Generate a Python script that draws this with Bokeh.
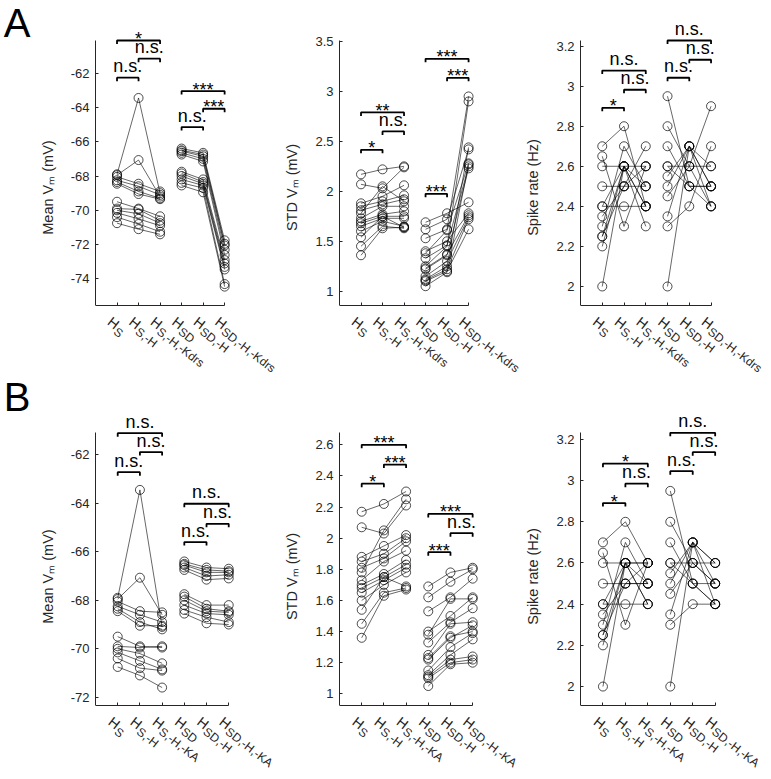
import math
from bokeh.plotting import figure
from bokeh.layouts import gridplot
from bokeh.models import (Range1d, FixedTicker, Label, NumeralTickFormatter, LinearAxis,
                          CustomJSTickFormatter)
from bokeh.embed import file_html
from bokeh.resources import INLINE

FONT = "Liberation Sans"
AX = "#262626"

# ---------------- categories / tick labels ----------------
cats_all = [1, 2, 3, 4, 5, 6]
cats_s = [1, 2, 3]
cats_sd = [4, 5, 6]
sub_kdrs = ["S", "S,-H", "S,-H,-Kdrs", "SD", "SD,-H", "SD,-H,-Kdrs"]
sub_ka = ["S", "S,-H", "S,-H,-KA", "SD", "SD,-H", "SD,-H,-KA"]

# ---------------- Mean Vm (mV) ----------------
vm_s_ctrl = [-67.90, -67.95, -68.05, -68.25, -68.35, -68.45, -69.50, -69.90, -70.00, -70.15, -70.40, -70.75]
vm_s_noH = [-63.45, -67.07, -68.45, -68.60, -68.90, -69.05, -69.90, -69.95, -70.20, -70.50, -70.80, -71.10]
vm_s_kdrs = [-69.00, -69.20, -68.90, -69.10, -69.30, -69.35, -70.35, -70.60, -70.75, -70.90, -71.25, -71.40]
vm_s_ka = [-69.10, -68.60, -68.50, -68.90, -69.20, -69.05, -69.95, -69.90, -70.60, -70.85, -70.90, -71.60]
vm_sd_ctrl = [-66.40, -66.50, -66.55, -66.65, -66.75, -67.75, -67.85, -68.00, -68.20, -68.40, -68.55]
vm_sd_noH = [-66.65, -66.75, -66.85, -67.00, -67.15, -68.20, -68.35, -68.45, -68.55, -68.70, -68.95]
vm_sd_kdrs = [-71.75, -71.95, -72.05, -72.30, -72.60, -72.90, -73.10, -73.30, -73.45, -74.30, -74.45]
vm_sd_ka = [-66.70, -66.80, -66.85, -66.95, -67.10, -68.20, -68.45, -68.50, -68.60, -68.90, -69.00]

# ---------------- STD Vm (mV) ----------------
sd_s_ctrl = [2.17, 2.07, 1.88, 1.85, 1.81, 1.78, 1.73, 1.70, 1.68, 1.65, 1.60, 1.54, 1.45, 1.36]
sd_s_noH = [2.22, 2.03, 1.95, 1.90, 1.87, 2.05, 1.85, 1.77, 1.75, 1.73, 1.70, 1.75, 1.65, 1.63]
sd_s_kdrs = [2.25, 2.24, 2.06, 1.96, 1.92, 1.90, 1.85, 1.80, 1.75, 1.73, 1.65, 1.64, 1.63, 1.64]
sd_s_ka = [2.30, 2.21, 2.02, 2.00, 1.98, 2.25, 1.92, 1.86, 1.83, 1.81, 1.78, 1.69, 1.68, 1.67]
sd_sd_ctrl = [1.69, 1.62, 1.53, 1.40, 1.38, 1.33, 1.25, 1.23, 1.22, 1.15, 1.12, 1.11, 1.10, 1.05]
sd_sd_noH = [1.78, 1.72, 1.62, 1.50, 1.61, 1.46, 1.45, 1.37, 1.36, 1.30, 1.25, 1.22, 1.20, 1.19]
sd_sd_kdrs = [1.89, 2.42, 2.95, 1.78, 2.28, 2.25, 2.90, 1.76, 2.23, 1.74, 2.44, 1.72, 1.62, 2.27]
sd_sd_ka = [1.81, 1.80, 1.74, 1.62, 1.61, 1.55, 1.46, 1.40, 1.44, 1.39, 1.35, 1.24, 1.22, 1.20]

# ---------------- Spike rate (Hz) ----------------
sr_s_ctrl = [2.70, 2.65, 2.60, 2.50, 2.40, 2.40, 2.35, 2.30, 2.25, 2.25, 2.20, 2.00]
sr_s_noH = [2.80, 2.30, 2.60, 2.50, 2.60, 2.40, 2.50, 2.70, 2.60, 2.50, 2.60, 2.60]
sr_s_kdrs = [2.40, 2.60, 2.60, 2.50, 2.30, 2.40, 2.70, 2.50, 2.40, 2.60, 2.50, 2.40]
sr_s_ka = [2.60, 2.60, 2.60, 2.50, 2.40, 2.40, 2.60, 2.50, 2.40, 2.50, 2.60, 2.50]
sr_sd_ctrl = [2.95, 2.80, 2.70, 2.60, 2.55, 2.50, 2.45, 2.35, 2.30, 2.00, 2.60]
sr_sd_noH = [2.50, 2.60, 2.50, 2.60, 2.70, 2.70, 2.60, 2.70, 2.40, 2.70, 2.50]
sr_sd_kdrs = [2.40, 2.40, 2.50, 2.60, 2.50, 2.40, 2.90, 2.60, 2.70, 2.50, 2.50]
sr_sd_ka = [2.40, 2.50, 2.40, 2.60, 2.60, 2.40, 2.50, 2.60, 2.40, 2.50, 2.50]

# ---------------- axis limits / ticks ----------------
lim_vm_a = (-75.55, -60.1)
lim_vm_b = (-72.34, -61.07)
lim_sd_a = (0.857, 3.51)
lim_sd_b = (0.925, 2.681)
lim_sr_a = (1.905, 3.228)
lim_sr_b = (1.908, 3.235)
ticks_vm_a = [-74, -72, -70, -68, -66, -64, -62]
ticks_vm_b = [-72, -70, -68, -66, -64, -62]
ticks_sd_a = [1, 1.5, 2, 2.5, 3, 3.5]
ticks_sd_b = [1, 1.2, 1.4, 1.6, 1.8, 2, 2.2, 2.4, 2.6]
ticks_sr = [2, 2.2, 2.4, 2.6, 2.8, 3, 3.2]

# ---------------- significance brackets (from, to, level, text) ----------------
br_vm_a = [(1, 2, -62.27, "n.s."), (2, 3, -61.16, "n.s."), (1, 3, -60.1, "*"),
           (4, 5, -65.15, "n.s."), (5, 6, -64.08, "***"), (4, 6, -63.05, "***")]
br_vm_b = [(1, 2, -62.72, "n.s."), (2, 3, -61.89, "n.s."), (1, 3, -61.11, "n.s."),
           (4, 5, -65.6, "n.s."), (5, 6, -64.85, "n.s."), (4, 6, -64.02, "n.s.")]
br_sd_a = [(1, 2, 2.416, "*"), (2, 3, 2.6, "n.s."), (1, 3, 2.79, "**"),
           (4, 5, 1.975, "***"), (5, 6, 3.136, "***"), (4, 6, 3.327, "***")]
br_sd_b = [(1, 2, 2.35, "*"), (2, 3, 2.473, "***"), (1, 3, 2.6, "***"),
           (4, 5, 1.91, "***"), (5, 6, 2.032, "n.s."), (4, 6, 2.156, "***")]
br_sr_a = [(1, 2, 2.892, "*"), (2, 3, 2.982, "n.s."), (1, 3, 3.078, "n.s."),
           (4, 5, 3.042, "n.s."), (5, 6, 3.132, "n.s."), (4, 6, 3.228, "n.s.")]
br_sr_b = [(1, 2, 2.891, "*"), (2, 3, 2.985, "n.s."), (1, 3, 3.082, "*"),
           (4, 5, 3.046, "n.s."), (5, 6, 3.138, "n.s."), (4, 6, 3.232, "n.s.")]

# ---------------- layout parameters (pixels) ----------------
COL_W = [281, 241, 248]
COL_LEFT = [90, 53, 55]          # frame (x = 0) starts here inside each column
ROW = {
    0: dict(H=374, above=40.0, below=69.0, axis_h=265.0, ppu=22.1, letter_cy=22.5),
    1: dict(H=404, above=57.7, below=73.0, axis_h=273.3, ppu=22.8, letter_cy=21.5),
}
ANG = -0.66           # tick label rotation (radians)


def add_group(p, xpos, series):
    n = len(series[0])
    xs = [list(xpos) for _ in range(n)]
    ys = [[s[k] for s in series] for k in range(n)]
    p.multi_line(xs=xs, ys=ys, line_color="black", line_width=0.6)
    px = [x for x, s in zip(xpos, series) for _ in s]
    py = [v for s in series for v in s]
    p.scatter(px, py, marker="circle", size=9, fill_color=None,
              line_color="black", line_width=0.7)


def make_panel(col, row, lim, yticks, ylabel, groups, brackets, subs, letter=None):
    r = ROW[row]
    ylo, yhi = lim
    W = COL_W[col]
    left = COL_LEFT[col]
    ppy = r["axis_h"] / (yhi - ylo)
    ystart = ylo - r["below"] / ppy
    yend = yhi + r["above"] / ppy
    xend = (W - left) / r["ppu"]
    p = figure(width=W, height=r["H"], x_range=Range1d(0, xend), y_range=Range1d(ystart, yend),
               x_axis_location=None, output_backend="svg", toolbar_location=None,
               min_border_left=left, min_border_right=0, min_border_top=0, min_border_bottom=0)
    p.grid.visible = False
    p.outline_line_color = None
    p.background_fill_color = "white"
    p.border_fill_color = "white"

    # x axis sitting at the bottom of the data limits
    xax = LinearAxis(fixed_location=ylo, ticker=FixedTicker(ticks=cats_all), bounds=(0, 6),
                     major_label_text_color=None)
    p.add_layout(xax, "below")

    # y axis
    yax = p.yaxis[0]
    yax.bounds = (ylo, yhi)
    yax.ticker = FixedTicker(ticks=yticks)
    yax.formatter = NumeralTickFormatter(format="0.[0]")
    yax.major_label_standoff = 6
    yax.major_label_text_font = FONT
    yax.major_label_text_font_size = "13px"
    yax.major_label_text_color = AX
    yax.axis_label = ylabel
    yax.axis_label_text_font = FONT
    yax.axis_label_text_font_size = "14.5px"
    yax.axis_label_text_font_style = "normal"
    yax.axis_label_text_color = AX
    yax.axis_label_standoff = 12
    for ax in (xax, yax):
        ax.axis_line_color = AX
        ax.axis_line_width = 1
        ax.major_tick_line_color = AX
        ax.major_tick_in = 3
        ax.major_tick_out = 0
        ax.minor_tick_in = 0
        ax.minor_tick_out = 0

    # data
    for xpos, series in groups:
        add_group(p, xpos, series)

    # significance brackets
    tick = 3.5 / ppy
    bxs, bys = [], []
    for i, j, y, txt in brackets:
        bxs.append([i, i, j, j])
        bys.append([y - tick, y, y, y - tick])
        star = txt.startswith("*")
        p.add_layout(Label(x=(i + j) / 2, y=y, text=txt, text_align="center",
                           text_baseline="middle", y_offset=(1.5 if star else 11.5),
                           text_font=FONT, text_font_size="18px", text_color="black"))
    p.multi_line(xs=bxs, ys=bys, line_color="black", line_width=1.8)

    # rotated x tick labels: H with subscript
    for c, s in zip(cats_all, subs):
        p.add_layout(Label(x=c, y=ylo, text="H", angle=ANG, x_offset=-7.5, y_offset=-14.4,
                           text_align="left", text_baseline="middle",
                           text_font=FONT, text_font_size="14px", text_color=AX))
        p.add_layout(Label(x=c, y=ylo, text=s, angle=ANG, x_offset=-1.7, y_offset=-24.7,
                           text_align="left", text_baseline="middle",
                           text_font=FONT, text_font_size="12px", text_color=AX))

    if letter is not None:
        ly = yend - r["letter_cy"] / ppy
        lax = LinearAxis(ticker=FixedTicker(ticks=[ly]),
                         formatter=CustomJSTickFormatter(code="return '%s';" % letter),
                         axis_line_color=None, major_tick_line_color=None,
                         minor_tick_line_color=None, major_tick_in=0, major_tick_out=0,
                         minor_tick_in=0, minor_tick_out=0, major_label_standoff=6,
                         major_label_text_font=FONT, major_label_text_font_size="40px",
                         major_label_text_color="black")
        p.add_layout(lax, "left")
    return p


a1 = make_panel(0, 0, lim_vm_a, ticks_vm_a, "Mean V\u2098 (mV)",
                [(cats_s, [vm_s_ctrl, vm_s_noH, vm_s_kdrs]), (cats_sd, [vm_sd_ctrl, vm_sd_noH, vm_sd_kdrs])],
                br_vm_a, sub_kdrs, letter="A")
a2 = make_panel(1, 0, lim_sd_a, ticks_sd_a, "STD V\u2098 (mV)",
                [(cats_s, [sd_s_ctrl, sd_s_noH, sd_s_kdrs]), (cats_sd, [sd_sd_ctrl, sd_sd_noH, sd_sd_kdrs])],
                br_sd_a, sub_kdrs)
a3 = make_panel(2, 0, lim_sr_a, ticks_sr, "Spike rate (Hz)",
                [(cats_s, [sr_s_ctrl, sr_s_noH, sr_s_kdrs]), (cats_sd, [sr_sd_ctrl, sr_sd_noH, sr_sd_kdrs])],
                br_sr_a, sub_kdrs)
b1 = make_panel(0, 1, lim_vm_b, ticks_vm_b, "Mean V\u2098 (mV)",
                [(cats_s, [vm_s_ctrl, vm_s_noH, vm_s_ka]), (cats_sd, [vm_sd_ctrl, vm_sd_noH, vm_sd_ka])],
                br_vm_b, sub_ka, letter="B")
b2 = make_panel(1, 1, lim_sd_b, ticks_sd_b, "STD V\u2098 (mV)",
                [(cats_s, [sd_s_ctrl, sd_s_noH, sd_s_ka]), (cats_sd, [sd_sd_ctrl, sd_sd_noH, sd_sd_ka])],
                br_sd_b, sub_ka)
b3 = make_panel(2, 1, lim_sr_b, ticks_sr, "Spike rate (Hz)",
                [(cats_s, [sr_s_ctrl, sr_s_noH, sr_s_ka]), (cats_sd, [sr_sd_ctrl, sr_sd_noH, sr_sd_ka])],
                br_sr_b, sub_ka)

grid = gridplot([[a1, a2, a3], [b1, b2, b3]], toolbar_location=None)
open("out.html", "w").write(file_html(grid, INLINE))
